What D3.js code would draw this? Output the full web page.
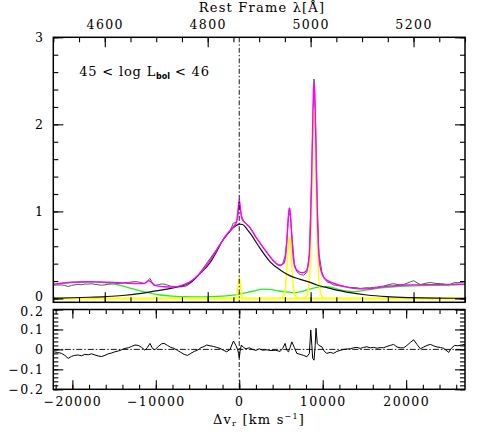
<!DOCTYPE html>
<html>
<head>
<meta charset="utf-8">
<script src="https://cdn.jsdelivr.net/npm/d3@7"></script>
<style>
  body { margin: 0; background: #fff; }
  text { font-family: "DejaVu Serif", serif; fill: #000; }
</style>
</head>
<body>
<div id="chart"></div>
<script>
// wavelength range of the plot and line centre (H beta)
var lamRange = [4500, 5300];
var lam0 = 4861.33;
var cLight = 299792.458;

// tick labels
var lamTicks = [4600, 4800, 5000, 5200];
var velTicks = [-20000, -10000, 0, 10000, 20000];
var fluxTicks = [0, 1, 2, 3];
var resTicks = [-0.2, -0.1, 0, 0.1, 0.2];

// observed spectrum and residual (velocity in km/s)
var velObs = [
  -22280,-21800,-21300,-20900,-20500,-20100,-19700,-19300,-18900,-18500,
  -18100,-17700,-17300,-16900,-16500,-16100,-15700,-15300,-14900,-14500,
  -14100,-13700,-13300,-12900,-12500,-12100,-11700,-11300,-11000,-10700,
  -10400,-10100,-9700,-9300,-9000,-8600,-8200,-7800,-7400,-7000,
  -6600,-6200,-5800,-5400,-5000,-4600,-4200,-3900,-3500,-3100,
  -2700,-2300,-1900,-1500,-1100,-700,-400,-200,-80,0,
  100,250,500,800,1200,1600,2000,2400,2800,3300,
  3800,4300,4900,5200,5500,5700,5900,6100,6300,6600,
  6900,7300,7700,8100,8400,8570,8700,8800,8960,9100,
  9200,9350,9550,9900,10200,10500,10900,11300,11700,12100,
  12500,12900,13300,13700,14100,14500,14900,15300,15700,16100,
  16500,16900,17300,17700,18100,18500,18900,19300,19700,20100,
  20500,20900,21300,21700,22100,22500,22900,23300,23700,24100,
  24500,24900,25100,25400,25800,26200,26600,27050];
var fluxObs = [
  0.153,0.155,0.155,0.149,0.137,0.150,0.157,0.161,0.158,0.166,
  0.165,0.169,0.162,0.157,0.152,0.157,0.163,0.166,0.171,0.172,
  0.176,0.182,0.183,0.189,0.194,0.190,0.181,0.170,0.203,0.230,
  0.177,0.150,0.158,0.167,0.165,0.153,0.141,0.139,0.136,0.133,
  0.138,0.148,0.180,0.220,0.256,0.312,0.363,0.406,0.458,0.511,
  0.566,0.624,0.675,0.723,0.779,0.866,0.872,0.920,1.020,1.100,
  1.042,0.955,0.893,0.861,0.828,0.765,0.700,0.652,0.592,0.529,
  0.463,0.411,0.375,0.399,0.490,0.660,0.948,0.980,0.738,0.400,
  0.307,0.275,0.268,0.298,0.510,1.060,1.518,1.945,2.520,2.175,
  1.790,1.060,0.520,0.304,0.229,0.192,0.177,0.155,0.152,0.144,
  0.140,0.132,0.126,0.125,0.123,0.115,0.120,0.123,0.122,0.128,
  0.130,0.138,0.142,0.154,0.163,0.170,0.160,0.158,0.160,0.175,
  0.190,0.204,0.181,0.160,0.169,0.178,0.183,0.177,0.172,0.170,
  0.166,0.154,0.147,0.167,0.183,0.181,0.186,0.190];
var residObs = [
  -0.012,-0.015,-0.020,-0.030,-0.045,-0.035,-0.030,-0.028,-0.032,-0.025,
  -0.027,-0.022,-0.028,-0.033,-0.036,-0.030,-0.022,-0.018,-0.012,-0.008,
  -0.002,0.005,0.008,0.015,0.022,0.020,0.010,-0.004,0.010,0.030,
  0.005,-0.002,0.015,0.028,0.030,0.020,0.010,0.005,-0.005,-0.015,
  -0.025,-0.030,-0.020,-0.010,-0.004,0.008,0.015,0.022,0.018,0.015,
  0.010,0.005,-0.004,-0.012,0.000,0.042,0.020,0.000,-0.020,-0.045,
  -0.010,0.022,0.010,0.003,0.008,0.000,-0.005,0.003,-0.004,-0.002,
  -0.006,-0.004,-0.010,0.005,0.030,-0.005,-0.012,0.010,0.038,0.010,
  -0.020,-0.025,-0.030,-0.037,-0.020,0.097,0.020,-0.045,-0.054,0.020,
  0.106,0.030,0.020,0.013,-0.010,-0.020,-0.015,-0.020,-0.010,-0.005,
  0.000,0.002,0.003,0.008,0.010,0.005,0.010,0.013,0.008,0.010,
  0.006,0.009,0.008,0.015,0.020,0.025,0.012,0.008,0.008,0.020,
  0.035,0.048,0.025,0.003,0.012,0.020,0.025,0.018,0.012,0.010,
  0.005,-0.008,-0.015,0.005,0.020,0.018,0.022,0.025];

// total model (magenta)
var velModel = [
  -22283,-21000,-20000,-19000,-18000,-17000,-16000,-15000,-14000,-13000,
  -12000,-11400,-11100,-10850,-10600,-10300,-10000,-9000,-8000,-7000,
  -6000,-5000,-4000,-3000,-2000,-1500,-1000,-600,-360,-270,
  -180,-90,0,90,180,270,360,600,900,1300,
  2000,2500,3000,3700,4300,4700,5020,5220,5420,5570,
  5720,5870,5945,6020,6095,6170,6320,6470,6620,6820,
  7020,7300,7600,7900,8170,8370,8520,8670,8820,8895,
  8970,9045,9120,9270,9420,9570,9770,9970,10300,10700,
  11300,12000,12900,13700,14500,15300,16100,17000,18100,19000,
  20100,22000,24000,26000,27052];
var fluxModel = [
  0.165,0.178,0.186,0.190,0.192,0.190,0.187,0.183,0.178,0.174,
  0.170,0.172,0.186,0.205,0.192,0.162,0.147,0.135,0.130,0.148,
  0.185,0.260,0.370,0.510,0.665,0.735,0.790,0.835,0.870,0.910,
  0.985,1.065,1.135,1.080,1.000,0.940,0.905,0.880,0.850,0.810,
  0.705,0.635,0.570,0.480,0.415,0.385,0.385,0.395,0.420,0.500,
  0.690,0.920,1.010,1.040,1.010,0.910,0.670,0.480,0.375,0.335,
  0.315,0.300,0.295,0.305,0.345,0.470,0.770,1.350,2.090,2.380,
  2.480,2.380,2.080,1.340,0.760,0.460,0.330,0.270,0.225,0.200,
  0.175,0.152,0.130,0.117,0.110,0.110,0.118,0.130,0.143,0.148,
  0.155,0.157,0.160,0.163,0.165];

// broad H beta component (black)
var velBroad = [
  -22283,-20000,-18000,-16000,-14000,-12000,-10000,-8500,-7000,-5900,
  -4700,-3500,-2700,-1900,-1100,-500,0,400,900,1300,
  2500,3700,4900,6100,7300,8500,9300,10300,11300,12300,
  13300,15300,17700,20500,23500,27052];
var fluxBroad = [
  0.004,0.008,0.014,0.022,0.034,0.055,0.088,0.110,0.140,0.180,
  0.285,0.410,0.540,0.680,0.775,0.828,0.855,0.850,0.800,0.750,
  0.575,0.420,0.327,0.260,0.220,0.185,0.155,0.130,0.105,0.085,
  0.067,0.040,0.021,0.010,0.004,0.002];

// Fe II template (green)
var velFe = [
  -22283,-21000,-20000,-18500,-17000,-15500,-14000,-13000,-11500,-9500,
  -8000,-6500,-5000,-3500,-2000,-1000,0,1500,2900,3600,
  4800,6000,6600,7300,8000,9300,10600,12100,13700,15300,
  17300,20100,23000,25300,27052];
var fluxFe = [
  0.160,0.175,0.185,0.192,0.188,0.175,0.145,0.117,0.078,0.040,
  0.027,0.020,0.019,0.020,0.026,0.036,0.050,0.080,0.108,0.105,
  0.086,0.072,0.067,0.075,0.095,0.128,0.135,0.098,0.078,0.098,
  0.124,0.143,0.150,0.155,0.163];

// narrow lines (yellow): H beta, [OIII] 4959, [OIII] 5007
var velHbNarrow = [-22283,-800,-600,-480,-360,-270,-180,-90,0,90,180,270,360,480,600,800,27052];
var fluxHbNarrow = [0,0,0.002,0.006,0.020,0.054,0.118,0.200,0.245,0.200,0.118,0.054,0.020,0.006,0.002,0,0];
var vel4959 = [-22283,4720,5020,5220,5420,5570,5720,5870,5945,6020,6095,6170,6320,6470,6620,6820,7020,7320,27052];
var flux4959 = [0,0,0.006,0.018,0.057,0.156,0.340,0.580,0.675,0.710,0.675,0.580,0.340,0.156,0.057,0.018,0.006,0,0];
var vel5007 = [-22283,7670,7970,8170,8370,8520,8670,8820,8895,8970,9045,9120,9270,9420,9570,9770,9970,10270,27052];
var flux5007 = [0,0,0.018,0.055,0.176,0.480,1.060,1.800,2.090,2.200,2.090,1.800,1.060,0.480,0.176,0.055,0.018,0,0];

var svgWidth = 491;
var svgHeight = 436;
var plotLeft = 53.3, plotRight = 465;
var mainTop = 37.3, mainBottom = 302.3;
var resTop = 309.5, resBottom = 389.3;

function toVel(l) { return (l / lam0 - 1) * cLight; }

var xLam = d3.scaleLinear().domain(lamRange).range([plotLeft, plotRight]);
var xVel = d3.scaleLinear().domain(lamRange.map(toVel)).range([plotLeft, plotRight]);
var yFlux = d3.scaleLinear().domain([-0.044, 3]).range([mainBottom, mainTop]);
var yRes = d3.scaleLinear().domain([-0.2, 0.2]).range([resBottom, resTop]);

var svg = d3.select("#chart")
  .append("svg")
  .attr("width", svgWidth)
  .attr("height", svgHeight);

var defs = svg.append("defs");
defs.append("clipPath").attr("id", "clipMain")
  .append("rect")
  .attr("x", plotLeft).attr("y", mainTop)
  .attr("width", plotRight - plotLeft).attr("height", mainBottom - mainTop);
defs.append("clipPath").attr("id", "clipRes")
  .append("rect")
  .attr("x", plotLeft).attr("y", resTop)
  .attr("width", plotRight - plotLeft).attr("height", resBottom - resTop);

var mainGroup = svg.append("g").attr("clip-path", "url(#clipMain)");
var resGroup = svg.append("g").attr("clip-path", "url(#clipRes)");

function drawCurve(group, xs, ys, yScale, color, width, curve) {
  group.append("path")
    .datum(d3.zip(xs, ys))
    .attr("fill", "none")
    .attr("stroke", color)
    .attr("stroke-width", width)
    .attr("stroke-linejoin", "round")
    .attr("d", d3.line()
      .x(d => xVel(d[0]))
      .y(d => yScale(d[1]))
      .curve(curve));
}

// main panel curves: data first, fit components, total fit on top
drawCurve(mainGroup, velObs, fluxObs, yFlux, "#444", 0.9, d3.curveLinear);
drawCurve(mainGroup, velFe, fluxFe, yFlux, "#22ee22", 1.3, d3.curveMonotoneX);
drawCurve(mainGroup, velHbNarrow, fluxHbNarrow, yFlux, "#ffff00", 1.5, d3.curveMonotoneX);
drawCurve(mainGroup, vel4959, flux4959, yFlux, "#ffff00", 1.5, d3.curveMonotoneX);
drawCurve(mainGroup, vel5007, flux5007, yFlux, "#ffff00", 1.5, d3.curveMonotoneX);
drawCurve(mainGroup, velBroad, fluxBroad, yFlux, "#111", 1.2, d3.curveMonotoneX);
drawCurve(mainGroup, velModel, fluxModel, yFlux, "#ff00ff", 1.4, d3.curveMonotoneX);

// residual panel
resGroup.append("line")
  .attr("x1", plotLeft).attr("x2", plotRight)
  .attr("y1", yRes(0)).attr("y2", yRes(0))
  .attr("stroke", "#000").attr("stroke-width", 0.9)
  .attr("stroke-dasharray", "6,2,1.5,2");
drawCurve(resGroup, velObs, residObs, yRes, "#000", 1, d3.curveLinear);

// dash-dot line at zero velocity in both panels
[[mainTop, mainBottom], [resTop, resBottom]].forEach(function(p) {
  svg.append("line")
    .attr("x1", xVel(0)).attr("x2", xVel(0))
    .attr("y1", p[0]).attr("y2", p[1])
    .attr("stroke", "#000").attr("stroke-width", 0.9)
    .attr("stroke-dasharray", "5,2,1.5,2");
});

// axes: all ticks point inwards
function tickSet(axis, translate, size, padding, format) {
  var g = svg.append("g")
    .attr("transform", translate)
    .call(axis.tickSize(-size).tickPadding(padding).tickFormat(format));
  g.select(".domain").remove();
  g.selectAll("line").attr("stroke-width", 1.1);
  g.attr("font-family", "DejaVu Serif").attr("font-size", 12.5);
  g.selectAll("text").attr("letter-spacing", 1.4);
  return g;
}
var noLabel = function() { return ""; };
var intFormat = d3.format("d");
var resFormat = function(d) { return d === 0 ? "0" : d3.format(".1f")(d); };

var lamMinor = d3.range(4500, 5301, 50);
var velMinor = d3.range(-22000, 27001, 2000);
var fluxMinor = d3.range(0, 3.01, 0.2);
var resMinor = d3.range(-0.2, 0.201, 0.02);

// main panel
tickSet(d3.axisTop(xLam).tickValues(lamMinor), `translate(0,${mainTop})`, 5, 0, noLabel);
tickSet(d3.axisTop(xLam).tickValues(lamTicks), `translate(0,${mainTop})`, 10, 8, intFormat);
tickSet(d3.axisBottom(xLam).tickValues(lamMinor), `translate(0,${mainBottom})`, 5, 0, noLabel);
tickSet(d3.axisBottom(xLam).tickValues(lamTicks), `translate(0,${mainBottom})`, 10, 0, noLabel);
tickSet(d3.axisLeft(yFlux).tickValues(fluxMinor), `translate(${plotLeft},0)`, 5, 0, noLabel);
var fluxAxis = tickSet(d3.axisLeft(yFlux).tickValues(fluxTicks), `translate(${plotLeft},0)`, 10, 9, intFormat);
tickSet(d3.axisRight(yFlux).tickValues(fluxMinor), `translate(${plotRight},0)`, 5, 0, noLabel);
tickSet(d3.axisRight(yFlux).tickValues(fluxTicks), `translate(${plotRight},0)`, 10, 0, noLabel);
// lift the "0" a little, as in the original, to keep it off the lower panel
fluxAxis.selectAll("text").filter(d => d === 0).attr("dy", "0.15em");

// residual panel
tickSet(d3.axisTop(xVel).tickValues(velMinor), `translate(0,${resTop})`, 4.5, 0, noLabel);
tickSet(d3.axisTop(xVel).tickValues(velTicks), `translate(0,${resTop})`, 9, 0, noLabel);
tickSet(d3.axisBottom(xVel).tickValues(velMinor), `translate(0,${resBottom})`, 4.5, 0, noLabel);
tickSet(d3.axisBottom(xVel).tickValues(velTicks), `translate(0,${resBottom})`, 9, 8, intFormat);
tickSet(d3.axisLeft(yRes).tickValues(resMinor), `translate(${plotLeft},0)`, 5, 0, noLabel);
var resAxis = tickSet(d3.axisLeft(yRes).tickValues(resTicks), `translate(${plotLeft},0)`, 10, 9, resFormat);
tickSet(d3.axisRight(yRes).tickValues(resMinor), `translate(${plotRight},0)`, 5, 0, noLabel);
tickSet(d3.axisRight(yRes).tickValues(resTicks), `translate(${plotRight},0)`, 10, 0, noLabel);
resAxis.selectAll("text").filter(d => d === 0.2).attr("dy", "0.5em");

// frames
[[mainTop, mainBottom], [resTop, resBottom]].forEach(function(p) {
  svg.append("rect")
    .attr("x", plotLeft).attr("y", p[0])
    .attr("width", plotRight - plotLeft).attr("height", p[1] - p[0])
    .attr("fill", "none").attr("stroke", "#000").attr("stroke-width", 1.5);
});

// titles
svg.append("text")
  .attr("x", 262).attr("y", 11.7)
  .attr("text-anchor", "middle")
  .attr("font-size", 13).attr("letter-spacing", 1.2)
  .text("Rest Frame λ[Å]");

var xTitle = svg.append("text")
  .attr("x", 259).attr("y", 423.5)
  .attr("text-anchor", "middle")
  .attr("font-size", 13).attr("letter-spacing", 1.2);
xTitle.append("tspan").text("Δv");
xTitle.append("tspan").attr("font-size", 8).attr("dy", 2.5).text("r");
xTitle.append("tspan").attr("dy", -2.5).text(" [km s");
xTitle.append("tspan").attr("font-size", 8).attr("dy", -5).text("−1");
xTitle.append("tspan").attr("dy", 5).text("]");

var lumLabel = svg.append("text")
  .attr("x", 79.3).attr("y", 76)
  .attr("font-size", 13).attr("letter-spacing", 0.8)
  .attr("xml:space", "preserve");
lumLabel.append("tspan").text("45 < log L");
lumLabel.append("tspan")
  .attr("font-family", "DejaVu Sans").attr("font-weight", "bold")
  .attr("font-size", 8).attr("dy", 2.5).attr("letter-spacing", 0)
  .text("bol");
lumLabel.append("tspan").attr("dy", -2.5).text(" < 46");
</script>
</body>
</html>
